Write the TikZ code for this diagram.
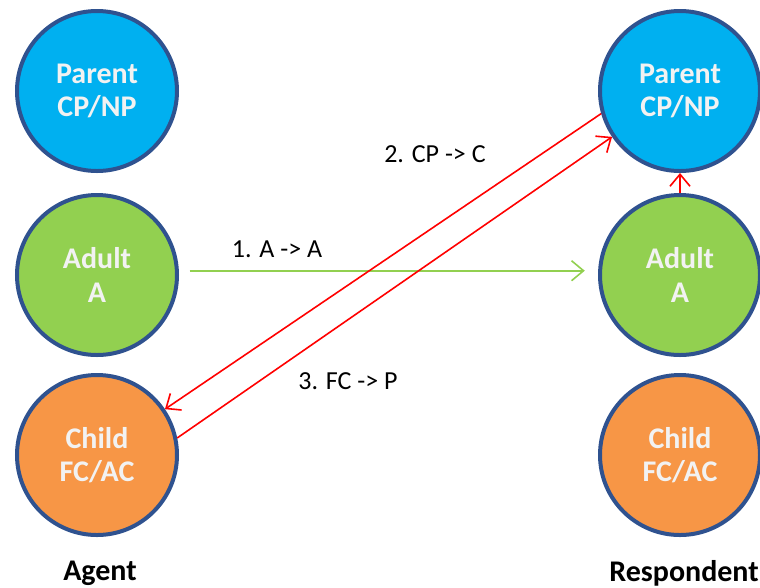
\documentclass[tikz,border=0pt]{standalone}
\usepackage{fontspec}
\setmainfont{Carlito}
\usetikzlibrary{arrows.meta}
\usetikzlibrary{positioning}
\definecolor{egoBlue}{HTML}{00B0F0}
\definecolor{egoGreen}{HTML}{92D050}
\definecolor{egoOrange}{HTML}{F79646}
\definecolor{egoRim}{HTML}{2F528F}
\definecolor{egoText}{HTML}{F2F2F2}
\tikzset{ego/.style={circle, draw=egoRim, line width=3pt, minimum size=120pt, inner sep=0pt,
           align=center, text=egoText, font=\fontsize{22.5}{25}\selectfont\bfseries},
         parentstate/.style={ego, fill=egoBlue},
         adultstate/.style={ego, fill=egoGreen},
         childstate/.style={ego, fill=egoOrange},
         role/.style={font=\fontsize{22.5}{25}\selectfont\bfseries},
         step label/.style={font=\fontsize{19.5}{22}\selectfont},
         transaction/.style={line width=1.2pt, -{Straight Barb[length=9pt, width=15pt, line width=1.2pt]}}}

\begin{document}
\begin{tikzpicture}[x=0.75pt, y=-0.75pt]
    \useasboundingbox (0,0) rectangle (760,587);
    \node[parentstate] (lparent) at (97,91)  {Parent\\CP/NP};
    \node[adultstate]  (ladult)  at (97,275) {Adult\\A};
    \node[childstate]  (lchild)  at (97,455) {Child\\FC/AC};
    \node[parentstate] (rparent) at (680,91)  {Parent\\CP/NP};
    \node[adultstate]  (radult)  at (680,275) {Adult\\A};
    \node[childstate]  (rchild)  at (680,455) {Child\\FC/AC};
    \node[role] (agent) at (100,573) {Agent};
    \node[role] (respondent) at (684,573) {Respondent};
    \node[step label] (lblAA) at (277,249) {1. A -> A};
    \node[step label] (lblCPC) at (435,154) {2. CP -> C};
    \node[step label] (lblFCP) at (348,381) {3. FC -> P};
  \path[transaction]
    (ladult.3) edge[draw=egoGreen, shorten <=8pt, shorten >=10pt] (radult.177)
    (rparent.196) edge[draw=red] (lchild.34)
    (lchild.12) edge[draw=red] (rparent.214)
    (radult) edge[draw=red] (rparent);
\end{tikzpicture}
\end{document}
